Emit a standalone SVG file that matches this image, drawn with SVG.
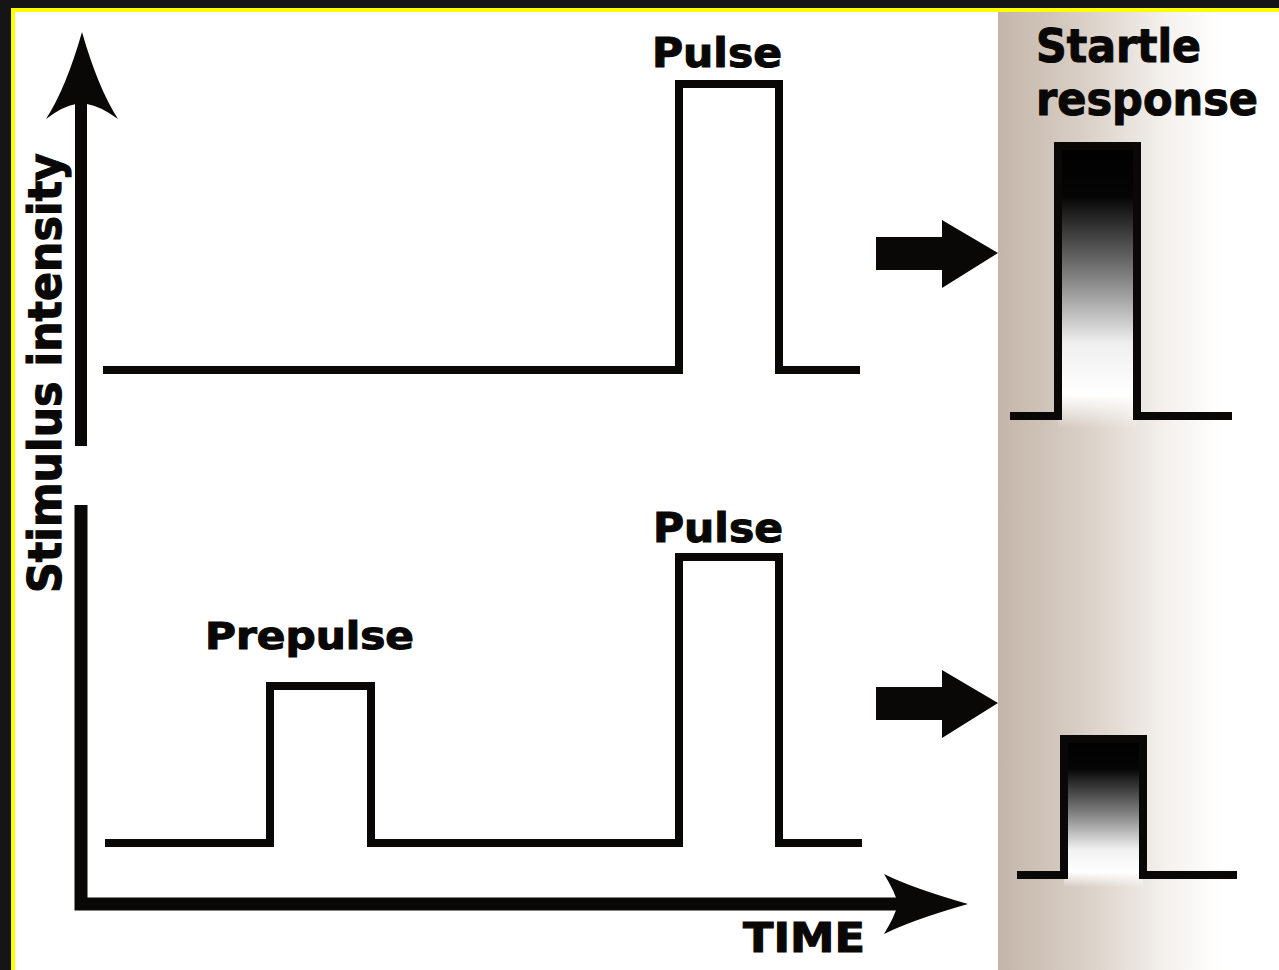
<svg xmlns="http://www.w3.org/2000/svg" width="1279" height="970" viewBox="0 0 1279 970">
<defs>
<linearGradient id="panel" x1="0" y1="0" x2="1" y2="0">
<stop offset="0" stop-color="#c3b5a9"/>
<stop offset="0.3" stop-color="#d9cfc6"/>
<stop offset="0.6" stop-color="#f4f1ee"/>
<stop offset="0.8" stop-color="#ffffff"/>
<stop offset="1" stop-color="#ffffff"/>
</linearGradient>
<linearGradient id="resp1" x1="0" y1="0" x2="0" y2="1">
<stop offset="0" stop-color="#000"/>
<stop offset="0.18" stop-color="#050505"/>
<stop offset="0.45" stop-color="#7a7a7a"/>
<stop offset="0.7" stop-color="#efefef"/>
<stop offset="0.88" stop-color="#ffffff"/>
<stop offset="1" stop-color="#ffffff" stop-opacity="0"/>
</linearGradient>
<linearGradient id="resp2" x1="0" y1="0" x2="0" y2="1">
<stop offset="0" stop-color="#000"/>
<stop offset="0.2" stop-color="#050505"/>
<stop offset="0.5" stop-color="#808080"/>
<stop offset="0.75" stop-color="#f2f2f2"/>
<stop offset="0.9" stop-color="#ffffff"/>
<stop offset="1" stop-color="#ffffff" stop-opacity="0"/>
</linearGradient>
<style>
.lbl{font-family:"DejaVu Sans","Liberation Sans",sans-serif;font-weight:bold;fill:#0a0806;stroke:#0a0806;stroke-width:1.1}
.trace{fill:none;stroke:#0a0806;stroke-width:8;stroke-linejoin:miter;stroke-linecap:butt}
.axis{fill:none;stroke:#0a0806;stroke-width:13}
.solid{fill:#0a0806}
</style>
</defs>
<rect x="0" y="0" width="1279" height="970" fill="#151515"/>
<rect x="11" y="8" width="1268" height="962" fill="#ffff00"/>
<rect x="15" y="12" width="1264" height="958" fill="#ffffff"/>
<rect id="panel-bg" x="998" y="12" width="281" height="958" fill="url(#panel)"/>

<g id="axes">
<line class="axis" x1="81" y1="446" x2="81" y2="100" style="stroke-width:12"/>
<path class="solid" d="M82,32 Q98,88 118,119 Q100,106 87,104 L76,104 Q63,106 46,119 Q66,88 82,32 Z"/>
<path class="axis" d="M81,505 L81,904 L900,904" style="stroke-linejoin:miter"/>
<path class="solid" d="M968,904 Q912,888 884,874 Q895,892 898,904 Q895,916 884,934 Q912,920 968,904 Z"/>
</g>

<g id="trace-top">
<path class="trace" d="M103,370 L679,370 L679,84 L779,84 L779,370 L860,370"/>
</g>
<g id="trace-bottom">
<path class="trace" d="M105,843 L270,843 L270,686 L371,686 L371,843 L679,843 L679,557 L779,557 L779,843 L862,843"/>
</g>

<g id="connectors">
<polygon class="solid" points="876,237 942,237 942,220 998,253 942,288 942,270 876,270"/>
<polygon class="solid" points="876,687 942,687 942,670 998,703 942,738 942,720 876,720"/>
</g>

<g id="response-top">
<rect x="1058" y="146" width="79" height="282" fill="url(#resp1)"/>
<path class="trace" d="M1010,416 L1058,416 L1058,146 L1137,146 L1137,416 L1232,416"/>
</g>
<g id="response-bottom">
<rect x="1064" y="739" width="79" height="148" fill="url(#resp2)"/>
<path class="trace" d="M1017,875 L1064,875 L1064,739 L1143,739 L1143,875 L1237,875"/>
</g>

<g id="labels">
<text class="lbl" transform="rotate(-90)" x="-593" y="61" font-size="46" textLength="440" lengthAdjust="spacingAndGlyphs">Stimulus intensity</text>
<text class="lbl" x="652" y="67" font-size="41" textLength="130" lengthAdjust="spacingAndGlyphs">Pulse</text>
<text class="lbl" x="653" y="542" font-size="41" textLength="130" lengthAdjust="spacingAndGlyphs">Pulse</text>
<text class="lbl" x="205" y="649" font-size="37" textLength="209" lengthAdjust="spacingAndGlyphs">Prepulse</text>
<text class="lbl" x="743" y="952" font-size="41" textLength="122" lengthAdjust="spacingAndGlyphs">TIME</text>
<text class="lbl" x="1036" y="62" font-size="46" textLength="165" lengthAdjust="spacingAndGlyphs">Startle</text>
<text class="lbl" x="1036" y="115" font-size="46" textLength="222" lengthAdjust="spacingAndGlyphs">response</text>
</g>
</svg>
